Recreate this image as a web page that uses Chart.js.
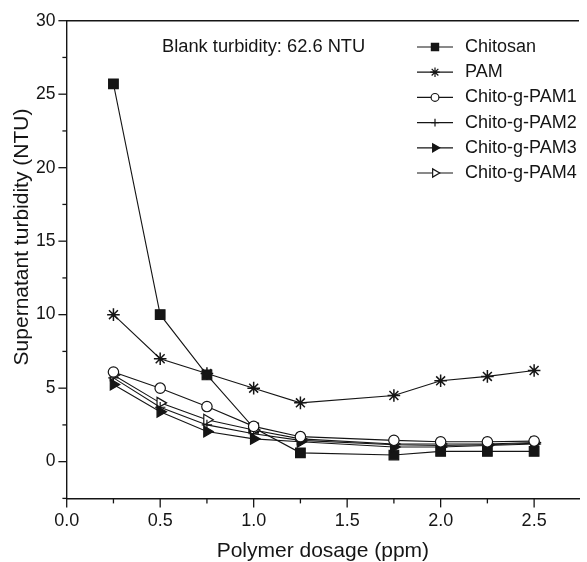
<!DOCTYPE html>
<html lang="en">
<head>
  <meta charset="UTF-8">
  <title>Supernatant turbidity vs polymer dosage</title>
  <script src="https://cdn.jsdelivr.net/npm/chart.js"></script>
  <style>
    html, body { margin: 0; padding: 0; background: #fff; }
    canvas { display: block; }
  </style>
</head>
<body>
  <canvas id="turbidityChart" width="587" height="562"></canvas>

  <script>
    // data
    const dosage = [0.25, 0.5, 0.75, 1.0, 1.25, 1.75, 2.0, 2.25, 2.5];
    const chitosan = [25.7, 10.0, 5.9, 2.3, 0.6, 0.45, 0.7, 0.7, 0.7];
    const pam = [10.0, 7.0, 6.0, 5.0, 4.0, 4.5, 5.5, 5.8, 6.2];
    const chitoPam1 = [6.1, 5.0, 3.75, 2.4, 1.7, 1.45, 1.35, 1.35, 1.4];
    const chitoPam2 = [5.7, 3.7, 2.5, 1.9, 1.45, 1.15, 1.1, 1.15, 1.25];
    const chitoPam3 = [5.25, 3.4, 2.05, 1.55, 1.35, 1.0, 1.0, 1.1, 1.2];
    const chitoPam4 = [5.9, 4.0, 2.85, 2.15, 1.55, 1.2, 1.2, 1.2, 1.3];

    const seriesNames = ['Chitosan', 'PAM', 'Chito-g-PAM1', 'Chito-g-PAM2', 'Chito-g-PAM3', 'Chito-g-PAM4'];
    const seriesValues = [chitosan, pam, chitoPam1, chitoPam2, chitoPam3, chitoPam4];

    const xTickLabels = ['0.0', '0.5', '1.0', '1.5', '2.0', '2.5'];
    const yTickLabels = ['0', '5', '10', '15', '20', '25', '30'];

    const xTitle = 'Polymer dosage (ppm)';
    const yTitle = 'Supernatant turbidity (NTU)';
    const note = 'Blank turbidity: 62.6 NTU';

    // marker look for each series
    const ink = '#151515';
    const markers = [
      { pointStyle: 'rect', radius: 6.8, fill: ink, rotation: 0, width: 1.2 },
      { pointStyle: 'star', radius: 6.3, fill: ink, rotation: 0, width: 1.5 },
      { pointStyle: 'circle', radius: 5.2, fill: '#fff', rotation: 0, width: 1.2 },
      { pointStyle: 'cross', radius: 5.2, fill: ink, rotation: 0, width: 1.2 },
      { pointStyle: 'triangle', radius: 6.3, fill: ink, rotation: 90, width: 1.2 },
      { pointStyle: 'triangle', radius: 6.3, fill: '#fff', rotation: 90, width: 1.2 }
    ];

    const FONT = "'Liberation Sans', Arial, sans-serif";
    Chart.defaults.font.family = FONT;
    Chart.defaults.color = ink;

    const datasets = seriesNames.map((name, i) => ({
      label: name,
      data: dosage.map((x, k) => ({ x: x, y: seriesValues[i][k] })),
      borderColor: ink,
      borderWidth: 1.1,
      backgroundColor: markers[i].fill,
      pointStyle: markers[i].pointStyle,
      pointRadius: markers[i].radius,
      pointRotation: markers[i].rotation,
      pointBackgroundColor: markers[i].fill,
      pointBorderColor: ink,
      pointBorderWidth: markers[i].width,
      tension: 0,
      fill: false,
      // chitosan sits underneath the others
      order: i === 0 ? 1 : 0
    }));

    function isMajor(v, step) {
      const q = v / step;
      return Math.abs(q - Math.round(q)) < 1e-6;
    }

    // tick marks, frame top, y title, note and legend
    const decorations = {
      id: 'decorations',
      afterDraw(chart) {
        const ctx = chart.ctx;
        const area = chart.chartArea;
        const xs = chart.scales.x;
        const ys = chart.scales.y;

        ctx.save();
        ctx.strokeStyle = ink;
        ctx.lineWidth = 1.4;

        // top frame line
        ctx.beginPath();
        ctx.moveTo(area.left, area.top);
        ctx.lineTo(area.right, area.top);
        ctx.stroke();

        ctx.lineWidth = 1.3;
        xs.ticks.forEach(t => {
          const px = xs.getPixelForValue(t.value);
          const len = isMajor(t.value, 0.5) ? 9 : 5;
          ctx.beginPath();
          ctx.moveTo(px, area.bottom);
          ctx.lineTo(px, area.bottom + len);
          ctx.stroke();
        });
        ys.ticks.forEach(t => {
          const py = ys.getPixelForValue(t.value);
          const len = isMajor(t.value, 5) ? 8.3 : 4.3;
          ctx.beginPath();
          ctx.moveTo(area.left, py);
          ctx.lineTo(area.left - len, py);
          ctx.stroke();
        });

        // y axis title
        ctx.fillStyle = ink;
        ctx.font = '21px ' + FONT;
        ctx.textAlign = 'center';
        ctx.textBaseline = 'middle';
        ctx.translate(22.5, 237);
        ctx.rotate(-Math.PI / 2);
        ctx.fillText(yTitle, 0, 0);
        ctx.setTransform(1, 0, 0, 1, 0, 0);

        // note
        ctx.font = '18.3px ' + FONT;
        ctx.textAlign = 'left';
        ctx.fillText(note, 162, 47);

        // legend
        ctx.font = '18px ' + FONT;
        const lx = 417, rowY = 47, rowGap = 25.2;
        seriesNames.forEach((name, i) => {
          const y = rowY + i * rowGap;
          ctx.strokeStyle = ink;
          ctx.lineWidth = 1.2;
          ctx.beginPath();
          ctx.moveTo(lx, y);
          ctx.lineTo(lx + 36, y);
          ctx.stroke();
          ctx.fillStyle = markers[i].fill;
          Chart.helpers.drawPoint(ctx, {
            pointStyle: markers[i].pointStyle,
            radius: markers[i].radius * 0.75,
            rotation: markers[i].rotation,
            borderWidth: 1.1
          }, lx + 18, y);
          ctx.fillStyle = ink;
          ctx.fillText(name, lx + 48, y);
        });
        ctx.restore();
      }
    };

    new Chart(document.getElementById('turbidityChart').getContext('2d'), {
      type: 'line',
      data: { datasets: datasets },
      plugins: [decorations],
      options: {
        responsive: false,
        animation: false,
        devicePixelRatio: 1,
        layout: { padding: { top: 20.7, right: 0, left: 0, bottom: 0 } },
        plugins: {
          legend: { display: false },
          tooltip: { enabled: false }
        },
        scales: {
          x: {
            type: 'linear',
            min: 0,
            max: 2.74,
            afterFit: scale => { scale.height = 63.6; },
            border: { display: true, color: ink, width: 1.4 },
            grid: { drawOnChartArea: false, drawTicks: true, tickLength: 9, color: 'rgba(0,0,0,0)' },
            ticks: {
              stepSize: 0.25,
              includeBounds: false,
              autoSkip: false,
              maxRotation: 0,
              padding: 3,
              color: ink,
              font: { size: 18 },
              callback: v => isMajor(v, 0.5) ? (xTickLabels.find(l => l === v.toFixed(1)) || '') : ''
            },
            title: {
              display: true,
              text: xTitle,
              color: ink,
              font: { size: 21, lineHeight: 1 },
              padding: { top: 0, bottom: 0 }
            }
          },
          y: {
            type: 'linear',
            min: -2.5,
            max: 30,
            afterFit: scale => { scale.width = 66.7; },
            border: { display: true, color: ink, width: 1.4 },
            grid: { drawOnChartArea: false, drawTicks: true, tickLength: 8.3, color: 'rgba(0,0,0,0)' },
            ticks: {
              stepSize: 2.5,
              autoSkip: false,
              padding: 3,
              color: ink,
              font: { size: 17.5 },
              callback: v => (v >= 0 && isMajor(v, 5)) ? (yTickLabels.find(l => l === String(v)) || '') : ''
            }
          }
        }
      }
    });
  </script>
</body>
</html>
